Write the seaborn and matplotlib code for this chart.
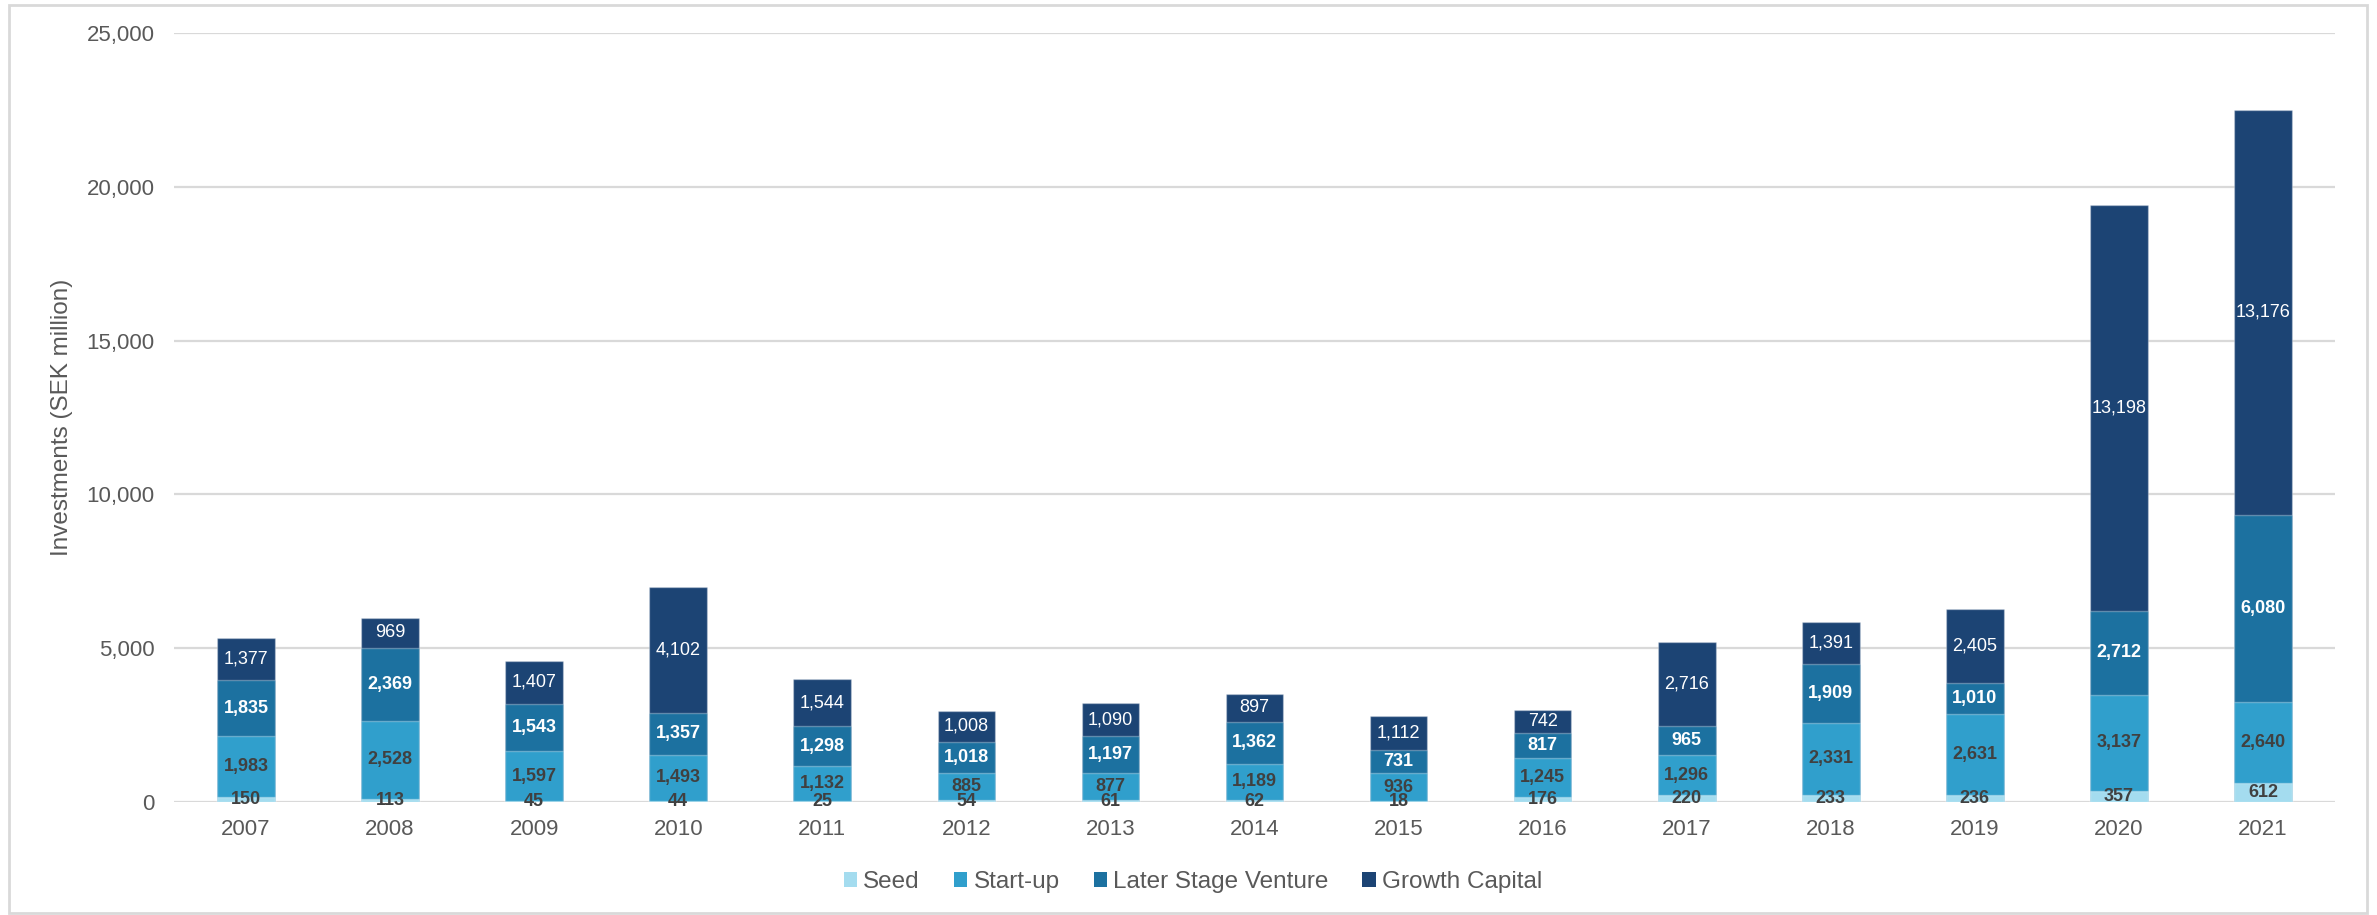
import matplotlib
matplotlib.use("Agg")
import matplotlib.pyplot as plt
from matplotlib.patches import Rectangle, Patch
import numpy as np
import pandas as pd
import seaborn as sns

# Venture investments by stage, SEK million
years = ["2007", "2008", "2009", "2010", "2011", "2012", "2013", "2014",
         "2015", "2016", "2017", "2018", "2019", "2020", "2021"]
seed = [150, 113, 45, 44, 25, 54, 61, 62, 18, 176, 220, 233, 236, 357, 612]
start_up = [1983, 2528, 1597, 1493, 1132, 885, 877, 1189, 936, 1245, 1296,
            2331, 2631, 3137, 2640]
later_stage = [1835, 2369, 1543, 1357, 1298, 1018, 1197, 1362, 731, 817, 965,
               1909, 1010, 2712, 6080]
growth = [1377, 969, 1407, 4102, 1544, 1008, 1090, 897, 1112, 742, 2716,
          1391, 2405, 13198, 13176]

stages = ["Seed", "Start-up", "Later Stage Venture", "Growth Capital"]
colors = ["#a4dcef", "#309fcc", "#1c71a0", "#1c4474"]
label_colors = ["#404040", "#404040", "white", "white"]
label_weights = ["bold", "bold", "bold", "normal"]

sns.set_theme(style="white")
plt.rcParams["font.family"] = ["Liberation Sans", "DejaVu Sans"]

values = np.array([seed, start_up, later_stage, growth], dtype=float)
tops = values.cumsum(axis=0)
bottoms = tops - values

fig = plt.figure(figsize=(23.77, 9.15), dpi=100)
ax = fig.add_axes([174 / 2377, 1 - 802 / 915, 2161 / 2377, 769 / 915])

# Stacked bars: draw cumulative totals from the top segment down
for i in reversed(range(len(stages))):
    df = pd.DataFrame({"year": years, "value": tops[i]})
    sns.barplot(data=df, x="year", y="value", color=colors[i], width=0.4,
                saturation=1, ax=ax, zorder=3, errorbar=None,
                edgecolor=(1, 1, 1, 0.3), linewidth=1)

# Segment value labels
for i in range(len(stages)):
    for j in range(len(years)):
        ax.text(j, bottoms[i, j] + values[i, j] / 2, f"{int(values[i, j]):,}",
                ha="center", va="center", fontsize=13,
                color=label_colors[i], fontweight=label_weights[i], zorder=5)

ax.set_xlim(-0.5, len(years) - 0.5)
ax.set_ylim(0, 25000)
ax.set_yticks(np.arange(0, 25001, 5000))
ax.yaxis.set_major_formatter(matplotlib.ticker.FuncFormatter(lambda v, p: f"{int(v):,}"))
ax.grid(axis="y", color="#d9d9d9", linewidth=1.6, zorder=0)
ax.set_axisbelow(True)
for s in ax.spines.values():
    s.set_visible(False)
ax.tick_params(axis="both", length=0, labelsize=16, labelcolor="#595959")
ax.tick_params(axis="y", pad=14)
ax.tick_params(axis="x", pad=12)
ax.set_xlabel("")
ax.set_ylabel("")

fig.text(62 / 2377, 1 - 417 / 915, "Investments (SEK million)", rotation=90,
         ha="center", va="center", fontsize=17.5, color="#595959")

handles = [Patch(facecolor=c, edgecolor="none") for c in colors]
fig.legend(handles, stages, loc="center", bbox_to_anchor=(1193 / 2377, 1 - 882 / 915),
           ncol=4, frameon=False, fontsize=17.5, labelcolor="#595959",
           handlelength=0.55, handleheight=0.55, handletextpad=0.25,
           columnspacing=1.4)

# Light frame around the figure
fig.patches.append(Rectangle((9 / 2377, 0.002), 2358 / 2377, 1 - 5 / 915 - 0.002,
                             transform=fig.transFigure, fill=False,
                             edgecolor="#d9d9d9", linewidth=2))

fig.savefig("out.png", dpi=100, facecolor="white")
